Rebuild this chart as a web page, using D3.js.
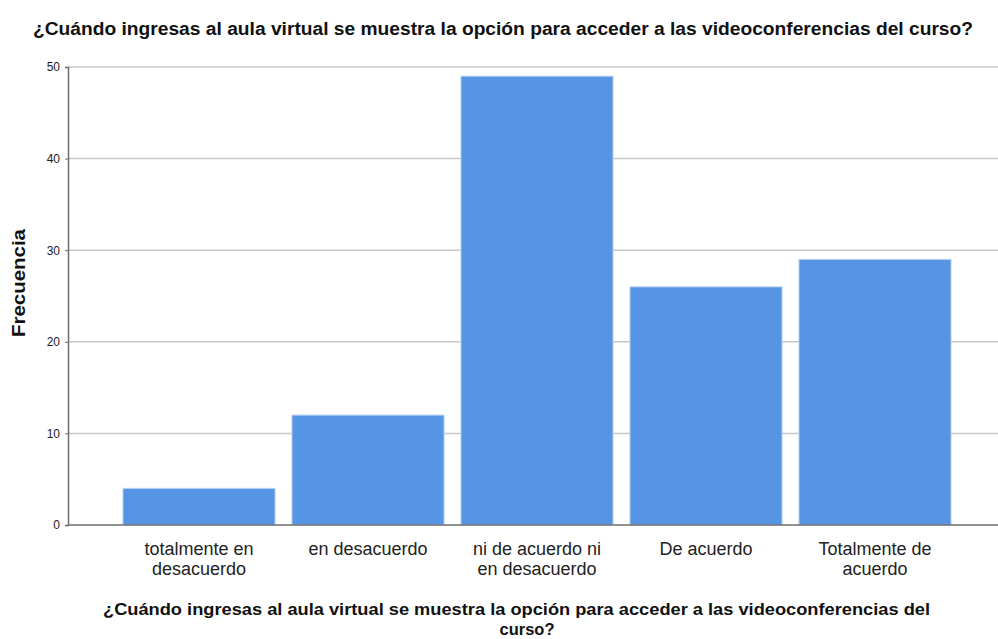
<!DOCTYPE html>
<html>
<head>
<meta charset="utf-8">
<script src="https://cdn.jsdelivr.net/npm/d3@7"></script>
<style>
  body { margin: 0; background: #fff; }
  svg { display: block; font-family: "Liberation Sans", Arial, sans-serif; }
</style>
</head>
<body>
<svg id="chart" width="998" height="639"></svg>
<script>
// data
var categories = ["totalmente en desacuerdo", "en desacuerdo", "ni de acuerdo ni en desacuerdo", "De acuerdo", "Totalmente de acuerdo"];
var counts = [4, 12, 49, 26, 29];
var yTicks = [0, 10, 20, 30, 40, 50];
var title = "¿Cuándo ingresas al aula virtual se muestra la opción para acceder a las videoconferencias del curso?";
var xTitleLines = ["¿Cuándo ingresas al aula virtual se muestra la opción para acceder a las videoconferencias del", "curso?"];
var yTitle = "Frecuencia";

var svg = d3.select("#chart");
var plotLeft = 68, plotRight = 998, plotTop = 67, plotBottom = 525;

var x = d3.scaleBand().domain(categories).range([114.5, 959.5]).paddingInner(0.1).paddingOuter(0.05);
var y = d3.scaleLinear().domain([0, 50]).range([plotBottom, plotTop]);

// grid lines
svg.append("g").selectAll("line").data(yTicks.filter(function(d) { return d > 0; })).enter()
  .append("line")
  .attr("x1", plotLeft).attr("x2", plotRight)
  .attr("y1", function(d) { return y(d); }).attr("y2", function(d) { return y(d); })
  .attr("stroke", "#c8c8c8").attr("stroke-width", 1.5);

// bars
svg.append("g").selectAll("rect").data(counts).enter()
  .append("rect")
  .attr("x", function(d, i) { return x(categories[i]); })
  .attr("width", x.bandwidth())
  .attr("y", function(d) { return y(d); })
  .attr("height", function(d) { return plotBottom - y(d); })
  .attr("fill", "#5595e3")
  .attr("stroke", "#bcd5f4").attr("stroke-width", 1);

// y axis
var yAxis = svg.append("g").attr("transform", "translate(" + plotLeft + ",0)")
  .call(d3.axisLeft(y).tickValues(yTicks).tickSize(3).tickPadding(5));
yAxis.select(".domain").attr("stroke", "#6e6e6e").attr("stroke-width", 1.5);
yAxis.selectAll(".tick line").attr("stroke", "#6e6e6e");
yAxis.selectAll("text").attr("font-size", 12).attr("fill", "#222").attr("font-family", "Liberation Sans, Arial, sans-serif");

// x axis baseline
svg.append("line").attr("x1", plotLeft).attr("x2", plotRight).attr("y1", plotBottom).attr("y2", plotBottom)
  .attr("stroke", "#6e6e6e").attr("stroke-width", 1.5);

// category labels, wrapped
var xAxis = svg.append("g").attr("transform", "translate(0," + plotBottom + ")")
  .call(d3.axisBottom(x).tickSize(0).tickPadding(0));
xAxis.select(".domain").remove();
xAxis.selectAll("text")
  .attr("dy", null)
  .attr("font-size", 18).attr("fill", "#222").attr("font-family", "Liberation Sans, Arial, sans-serif")
  .call(wrap, 150);

function wrap(texts, width) {
  texts.each(function() {
    var text = d3.select(this);
    var words = text.text().split(/\s+/);
    var lines = [], line = [];
    text.text(null);
    var tspan = text.append("tspan");
    words.forEach(function(w) {
      line.push(w);
      tspan.text(line.join(" "));
      if (tspan.node().getComputedTextLength() > width && line.length > 1) {
        line.pop();
        lines.push(line.join(" "));
        line = [w];
        tspan.text(w);
      }
    });
    lines.push(line.join(" "));
    text.text(null);
    lines.forEach(function(l, i) {
      text.append("tspan").attr("x", 0).attr("y", 30 + i * 20).text(l);
    });
  });
}

// title
svg.append("text").attr("x", 503).attr("y", 35).attr("text-anchor", "middle")
  .attr("font-size", 18).attr("font-weight", "bold").attr("fill", "#111")
  .attr("textLength", 940).attr("lengthAdjust", "spacingAndGlyphs")
  .text(title);

// x title
svg.append("g").selectAll("text").data(xTitleLines).enter()
  .append("text")
  .attr("x", function(d, i) { return i === 0 ? 516.5 : 527; })
  .attr("y", function(d, i) { return 615 + i * 20; })
  .attr("text-anchor", "middle").attr("font-size", 17).attr("font-weight", "bold").attr("fill", "#111")
  .attr("textLength", function(d, i) { return i === 0 ? 827 : 55; })
  .attr("lengthAdjust", "spacingAndGlyphs")
  .text(function(d) { return d; });

// y title
svg.append("text").attr("transform", "translate(25," + 283 + ") rotate(-90)")
  .attr("text-anchor", "middle").attr("font-size", 18).attr("font-weight", "bold").attr("fill", "#111")
  .attr("textLength", 108).attr("lengthAdjust", "spacingAndGlyphs")
  .text(yTitle);
</script>
</body>
</html>
